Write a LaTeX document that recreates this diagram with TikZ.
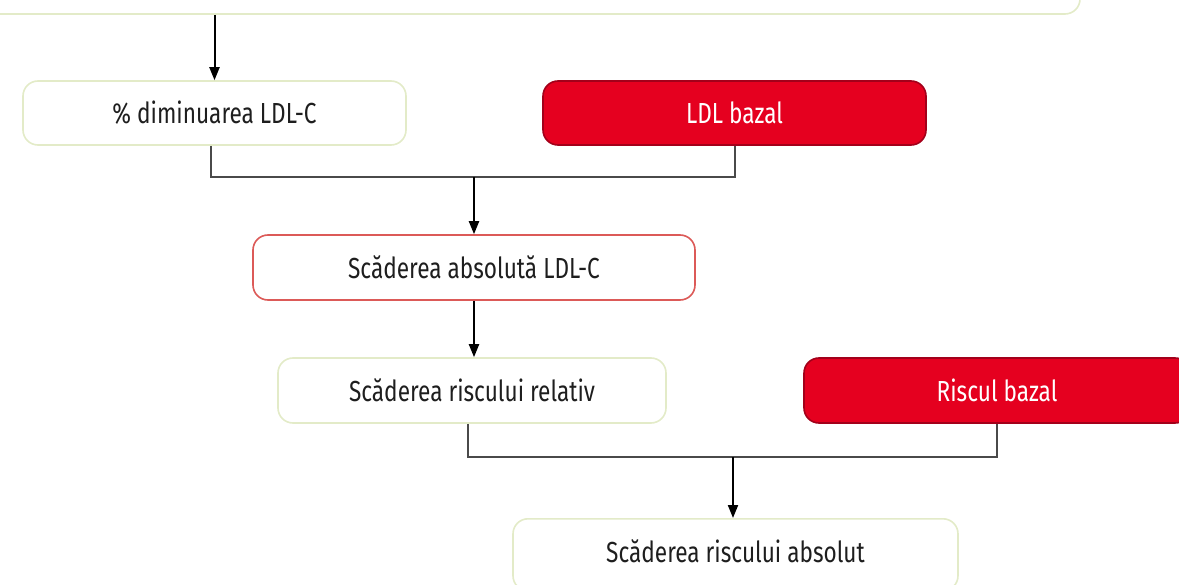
\documentclass[tikz,border=0pt]{standalone}
\usepackage{fontspec}
\setmainfont[FakeStretch=0.78]{Fira Sans}
\usetikzlibrary{arrows.meta}
\definecolor{paleedge}{HTML}{E3EBC8}
\definecolor{softred}{HTML}{DC5A58}
\definecolor{alertfill}{HTML}{E5001F}
\definecolor{alertedge}{HTML}{A3001A}
\definecolor{inkgray}{HTML}{1E1E1E}
\definecolor{wiregray}{HTML}{4A4A4A}
\tikzset{
  box/.style={draw, rounded corners=15pt, line width=1.6pt, align=center,
    font=\fontsize{29}{34}\selectfont, text=inkgray},
  plainbox/.style={box, draw=paleedge, fill=white},
  keybox/.style={box, draw=softred, fill=white},
  alertbox/.style={box, draw=alertedge, fill=alertfill, text=white},
  wire/.style={draw=wiregray, line width=2pt},
  flow/.style={draw=black, line width=2pt, -{Triangle[length=13pt,width=10pt]}},
}
\begin{document}
\begin{tikzpicture}[x=1pt,y=-1pt]
  \useasboundingbox (0,0) rectangle (1179,585);

  % boxes
  \node[plainbox, minimum width=1160pt, minimum height=88pt] (top) at (500,-30) {};
  \node[plainbox, minimum width=383pt, minimum height=64pt] (dim) at (214.5,113) {\% diminuarea LDL-C};
  \node[alertbox, minimum width=383pt, minimum height=64pt] (ldl) at (734.5,113) {LDL bazal};
  \node[keybox, minimum width=442pt, minimum height=65pt] (abs) at (474,267.5) {Scăderea absolută LDL-C};
  \node[plainbox, minimum width=388pt, minimum height=65pt] (rel) at (472,390.5) {Scăderea riscului relativ};
  \node[alertbox, minimum width=386pt, minimum height=65pt] (risk) at (997,390.5) {Riscul bazal};
  \node[plainbox, minimum width=445pt, anchor=north, inner ysep=10pt,
        text height=34pt, text depth=18pt] (final) at (735.5,518) {Scăderea riscului absolut};

  % junction points
  \coordinate (j1) at (474,177);
  \coordinate (j2) at (733,457);

  % connectors
  \draw[flow] (top.south -| dim.north) -- (dim.north);
  \draw[wire] ([xshift=-3.5pt]dim.south) |- (j1) -| (ldl.south);
  \draw[flow] (j1) -- (abs.north);
  \draw[flow] (abs.south) -- (abs.south |- rel.north);
  \draw[wire] ([xshift=-4pt]rel.south) |- (j2) -| (risk.south);
  \draw[flow] (j2) -- (j2 |- final.north);
\end{tikzpicture}
\end{document}
